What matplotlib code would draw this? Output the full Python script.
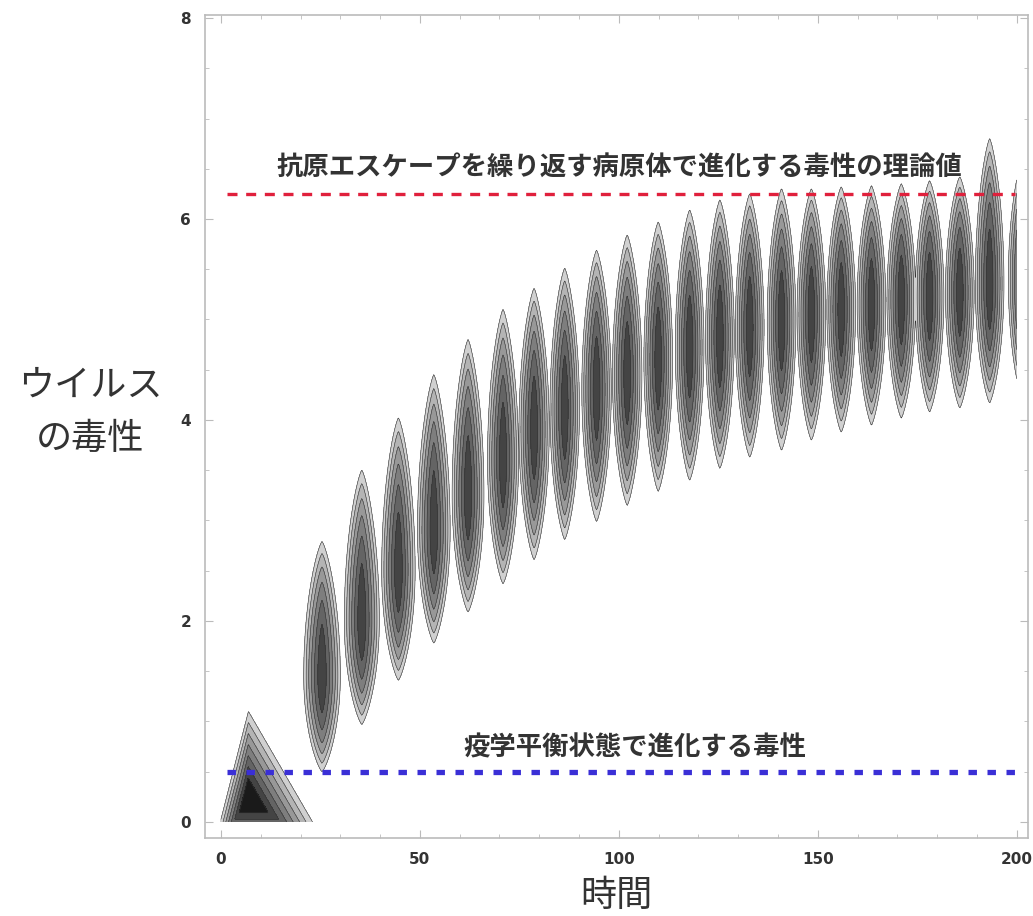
import numpy as np
import matplotlib
matplotlib.use('Agg')
import matplotlib.pyplot as plt

plt.rcParams['font.family'] = ['Noto Sans CJK JP', 'DejaVu Sans']

# Spindle-shaped clusters (time, virulence)
blob_time = [25.4, 35.4, 44.6, 53.5, 62.1, 70.9, 78.7, 86.4, 94.4, 102.1, 109.9, 117.8,
             125.4, 132.9, 140.9, 148.4, 155.9, 163.5, 171.0, 178.1, 185.7, 193.2, 201.5]
blob_top = [2.79, 3.50, 4.02, 4.45, 4.80, 5.10, 5.31, 5.51, 5.69, 5.84, 5.97, 6.09,
            6.19, 6.25, 6.30, 6.30, 6.32, 6.33, 6.35, 6.38, 6.42, 6.80, 6.60]
blob_bottom = [0.50, 0.97, 1.41, 1.78, 2.09, 2.37, 2.61, 2.81, 2.99, 3.15, 3.29, 3.40,
               3.52, 3.63, 3.70, 3.80, 3.88, 3.95, 4.02, 4.08, 4.12, 4.17, 4.20]
blob_core = [1.45, 2.00, 2.50, 2.90, 3.25, 3.60, 3.90, 4.10, 4.30, 4.45, 4.60, 4.72,
             4.82, 4.92, 4.98, 5.05, 5.10, 5.15, 5.20, 5.23, 5.27, 5.35, 5.40]
blob_halfwidth = [4.6, 4.4, 4.2, 4.1, 4.0, 3.9, 3.8, 3.7, 3.7, 3.7, 3.6, 3.6,
                  3.6, 3.6, 3.6, 3.6, 3.6, 3.6, 3.6, 3.6, 3.6, 3.6, 3.6]

# Initial triangular cluster: corners (edges pass through (-0.2, 0) and (23, 0)) and darkest point
tri_corners = [(-2.1, -0.3), (6.9, 1.1), (27.4, -0.3)]
tri_peak = (6.8, 0.22)

red_level = 6.25
blue_level = 0.5
time_range = [0, 200]

red_text = '抗原エスケープを繰り返す病原体で進化する毒性の理論値'
blue_text = '疫学平衡状態で進化する毒性'


def spindle(X, Y, xc, yc, top, bottom, a, amp=0.88):
    dy = Y - yc
    b = np.where(dy > 0, top - yc, yc - bottom)
    v = 1 - (dy / b) ** 2
    return amp * (v - (np.abs(X - xc) / a) ** 1.3)


def triangle(X, Y, corners, peak, amp=1.2):
    px, py = peak
    s = []
    for i in range(3):
        ax_, ay_ = corners[i]
        bx_, by_ = corners[(i + 1) % 3]
        nx, ny = by_ - ay_, -(bx_ - ax_)
        s.append((nx * (X - px) + ny * (Y - py)) / (nx * (ax_ - px) + ny * (ay_ - py)))
    return amp * (1 - np.maximum.reduce(s))


x = np.linspace(time_range[0], time_range[1], 1601)
y = np.linspace(0, 8, 801)
X, Y = np.meshgrid(x, y)

Z = triangle(X, Y, tri_corners, tri_peak)
for xc, yc, t, b, a in zip(blob_time, blob_core, blob_top, blob_bottom, blob_halfwidth):
    Z = np.maximum(Z, spindle(X, Y, xc, yc, t, b, a))

levels = [0, 0.15, 0.3, 0.45, 0.6, 0.75, 0.9, 1.3]
fills = ['#d0d0d0', '#b4b4b4', '#989898', '#7e7e7e', '#646464', '#444444', '#1a1a1a']

fig = plt.figure(figsize=(10.33, 9.16), dpi=100)
ax = fig.add_axes([0.1985, 0.0852, 0.7965, 0.8984])

ax.contourf(X, Y, Z, levels=levels, colors=fills)
ax.contour(X, Y, Z, levels=levels[:-1], colors='#333333', linewidths=0.4)

ax.hlines(red_level, time_range[0] + 1.5, time_range[1] - 0.5, colors='#e0203c',
          linestyles=(0, (3, 2.6)), linewidth=2.4)
ax.hlines(blue_level, time_range[0] + 1.5, time_range[1] - 0.5, colors='#3a2fd6',
          linestyles=(0, (1.6, 2.0)), linewidth=3.8)

ax.text(100, 6.5, red_text, ha='center', va='center', fontsize=19,
        fontweight='bold', color='#333333')
ax.text(104, 0.74, blue_text, ha='center', va='center', fontsize=19,
        fontweight='bold', color='#333333')

ax.set_xlim(-4.0, 202.8)
ax.set_ylim(-0.16, 8.03)
ax.set_xticks([0, 50, 100, 150, 200])
ax.set_yticks([0, 2, 4, 6, 8])
ax.set_xticks(np.arange(0, 201, 10), minor=True)
ax.set_yticks(np.arange(0, 8.01, 0.5), minor=True)
ax.tick_params(which='both', direction='in', top=True, right=True, color='#bbbbbb')
ax.tick_params(which='major', length=6, labelsize=11, labelcolor='#333333', pad=10)
ax.tick_params(which='minor', length=3)
for sp in ax.spines.values():
    sp.set_color('#bbbbbb')
    sp.set_linewidth(1.2)
for lab in ax.get_xticklabels() + ax.get_yticklabels():
    lab.set_family('DejaVu Sans')
    lab.set_fontweight('bold')

ax.set_xlabel('時間', fontsize=26, color='#333333', labelpad=8)
fig.text(0.087, 0.55, 'ウイルス\nの毒性', ha='center', va='center', fontsize=26,
         color='#333333', linespacing=1.6)

fig.savefig('out.png', dpi=100)
